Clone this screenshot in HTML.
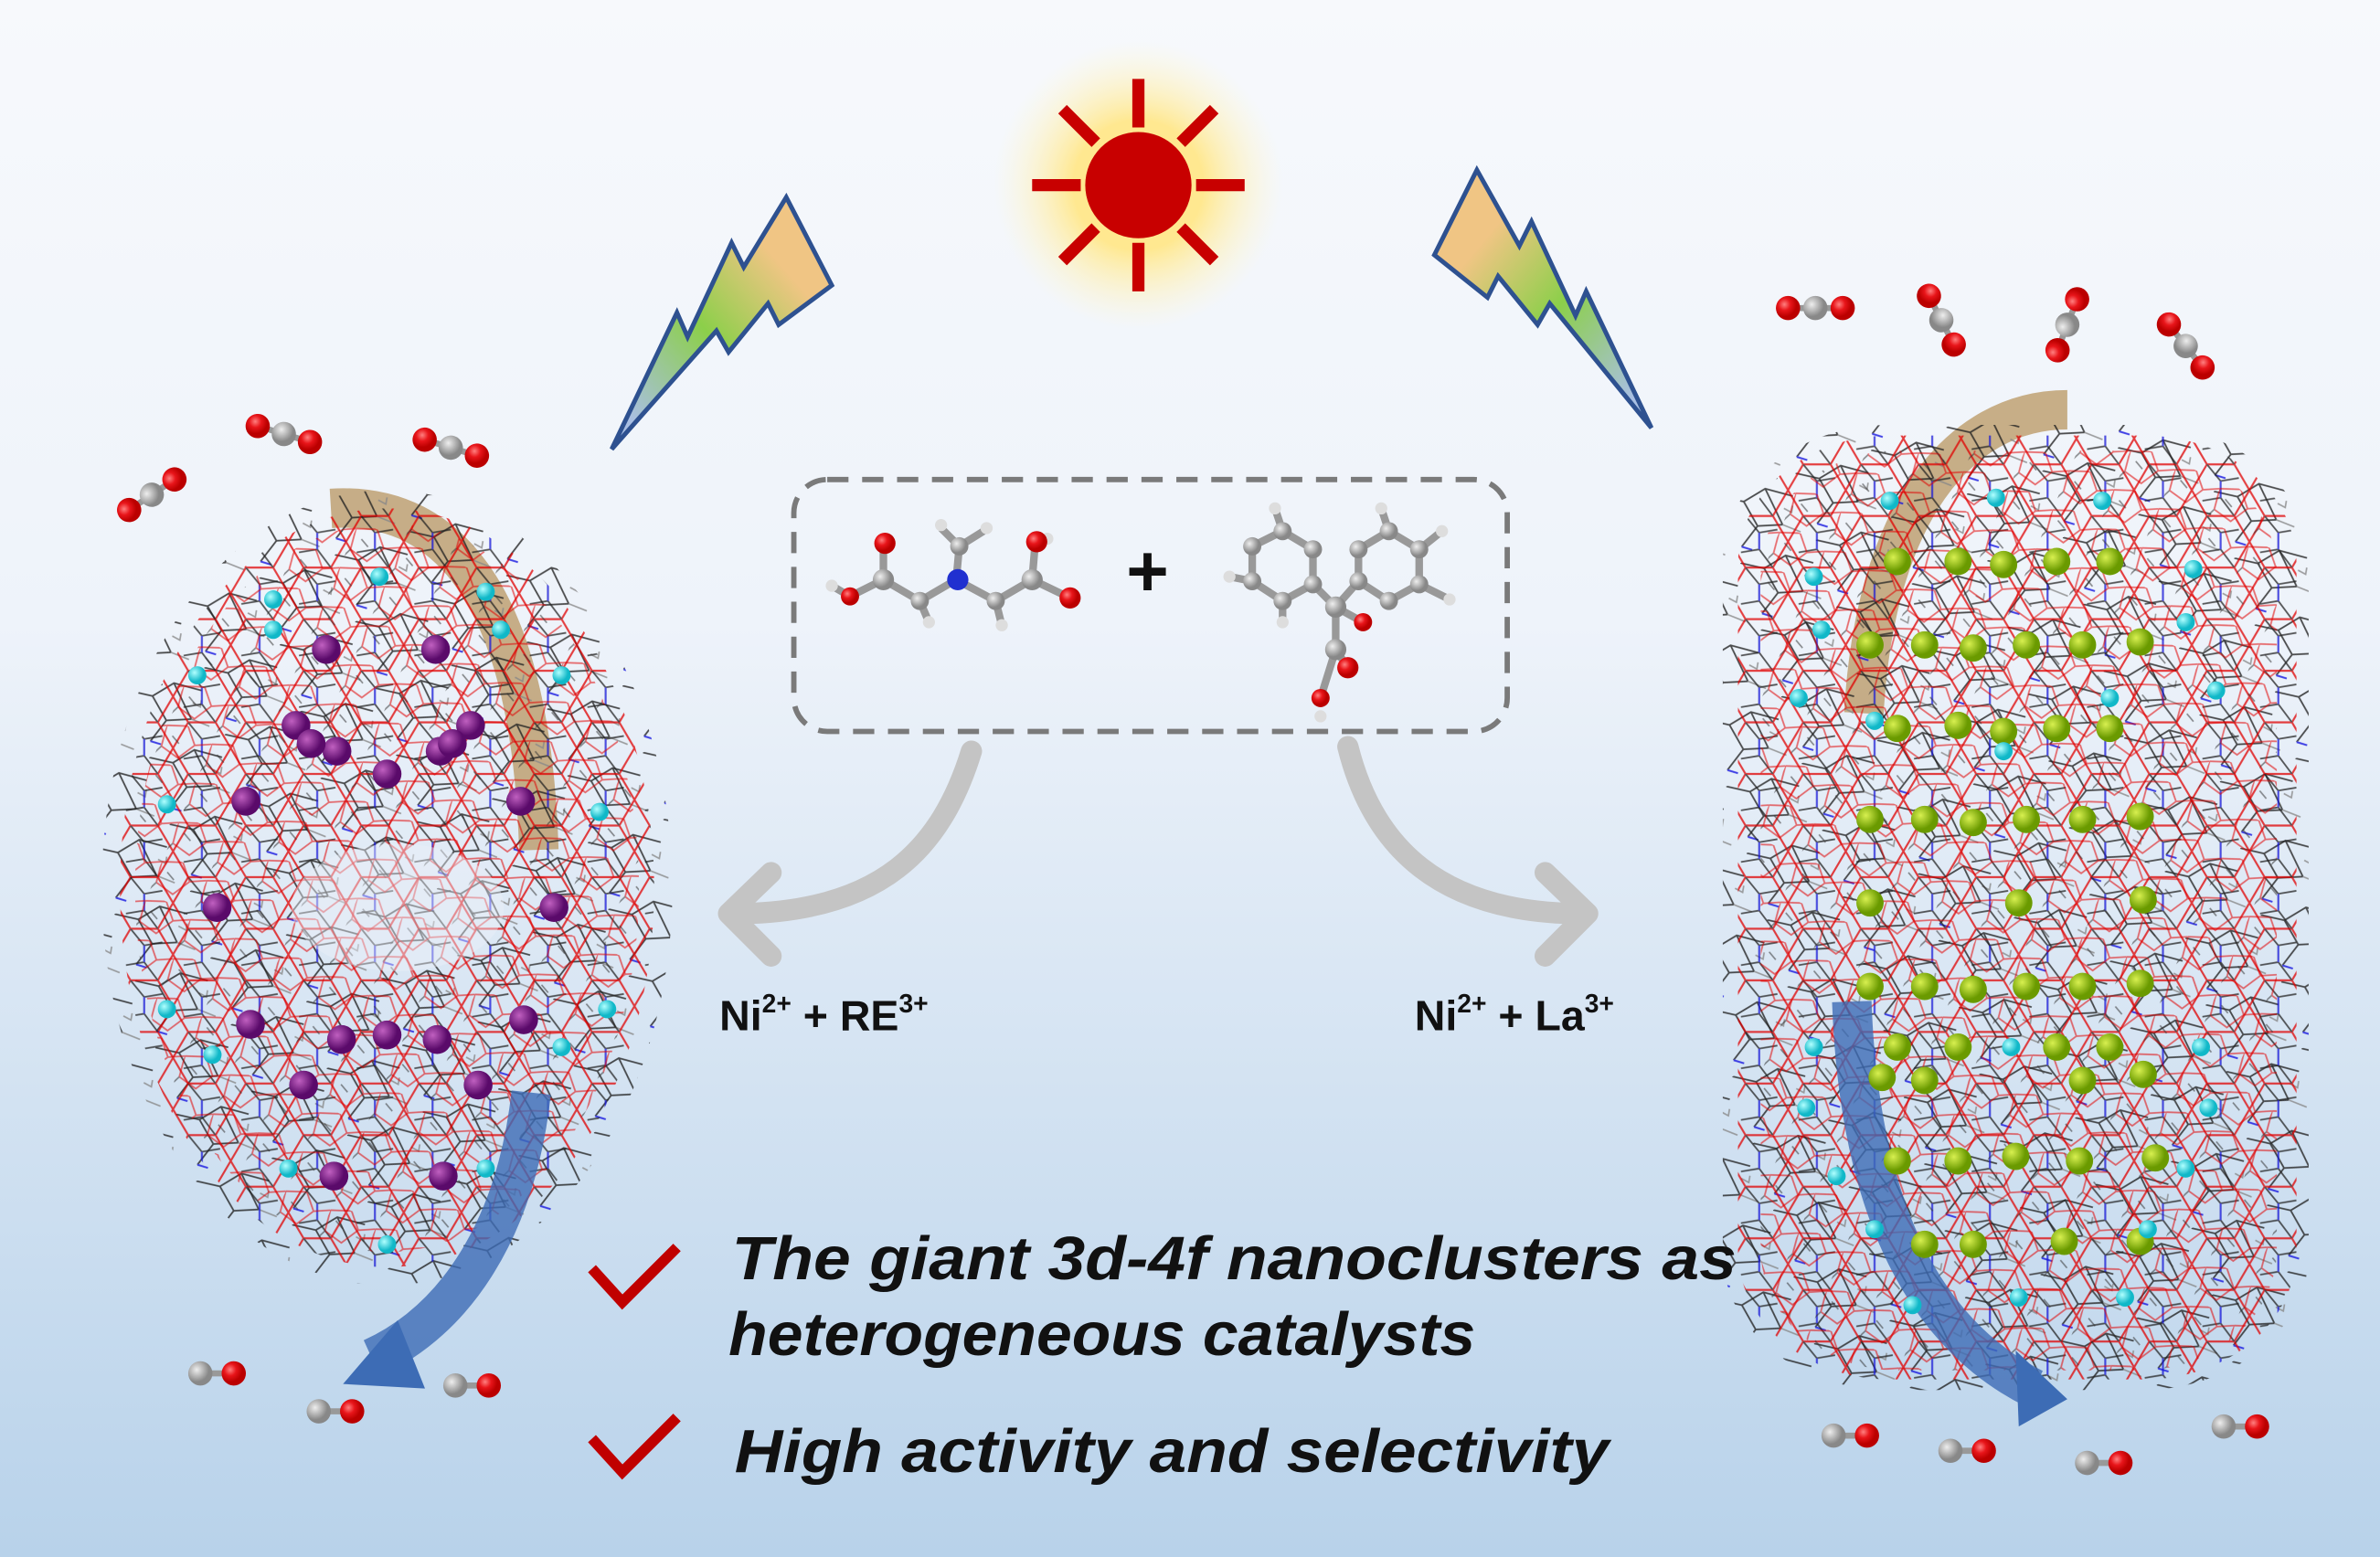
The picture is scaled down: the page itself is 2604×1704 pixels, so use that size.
<!DOCTYPE html>
<html><head><meta charset="utf-8">
<style>html,body{margin:0;padding:0;width:2604px;height:1704px;overflow:hidden}svg{display:block}</style>
</head><body>
<svg xmlns="http://www.w3.org/2000/svg" xmlns:xlink="http://www.w3.org/1999/xlink" width="2604" height="1704" viewBox="0 0 1568 1026" preserveAspectRatio="none">
<defs>
<linearGradient id="bg" x1="0" y1="0" x2="0" y2="1">
<stop offset="0" stop-color="#f7f9fc"/><stop offset="0.4" stop-color="#eef3fa"/><stop offset="1" stop-color="#b8d2ea"/></linearGradient>
<linearGradient id="bolt" x1="0" y1="1" x2="1" y2="0">
<stop offset="0.1" stop-color="#a9bfe3"/><stop offset="0.45" stop-color="#8ccf4a"/><stop offset="0.75" stop-color="#f0c584"/></linearGradient>
<linearGradient id="bolt2" x1="1" y1="1" x2="0" y2="0">
<stop offset="0.1" stop-color="#a9bfe3"/><stop offset="0.45" stop-color="#8ccf4a"/><stop offset="0.75" stop-color="#f0c584"/></linearGradient>
<radialGradient id="glow"><stop offset="0.45" stop-color="#ffe890"/><stop offset="1" stop-color="#fff7d0" stop-opacity="0"/></radialGradient>
<radialGradient id="red" cx="0.35" cy="0.35"><stop offset="0" stop-color="#ff8080"/><stop offset="0.5" stop-color="#e8151a"/><stop offset="1" stop-color="#b00"/></radialGradient>
<radialGradient id="grey" cx="0.35" cy="0.35"><stop offset="0" stop-color="#eee"/><stop offset="1" stop-color="#888"/></radialGradient>
<radialGradient id="pur" cx="0.35" cy="0.35"><stop offset="0" stop-color="#c060c0"/><stop offset="1" stop-color="#5a0a6a"/></radialGradient>
<radialGradient id="grn" cx="0.35" cy="0.35"><stop offset="0" stop-color="#d8f050"/><stop offset="1" stop-color="#6a9a00"/></radialGradient>
<radialGradient id="cy" cx="0.35" cy="0.35"><stop offset="0" stop-color="#b0ffff"/><stop offset="1" stop-color="#10b8c8"/></radialGradient>
<pattern id="p1" width="38" height="34" patternUnits="userSpaceOnUse">
<path d="M0,17 L10,0 L28,0 L38,17 L28,34 L10,34 Z" fill="none" stroke="#e00000" stroke-width="1.3"/>
<path d="M10,0 L19,11 L19,22 L28,34 M19,11 L31,9 M19,22 L7,24" fill="none" stroke="#222" stroke-width="1.1"/>
<path d="M19,11 L19,22" stroke="#1515e0" stroke-width="1.2"/>
</pattern>
<pattern id="p2" width="32" height="28" patternUnits="userSpaceOnUse" patternTransform="rotate(23)">
<path d="M0,5 L13,0 L22,10 L15,22 L2,19 Z M22,10 L32,5" fill="none" stroke="#e00000" stroke-width="1.1"/>
<path d="M2,19 L-2,28 M6,10 L12,13" fill="none" stroke="#333" stroke-width="1"/>
</pattern>
<pattern id="p3" width="52" height="46" patternUnits="userSpaceOnUse" patternTransform="rotate(-17)">
<path d="M0,0 L14,8 L30,4 L46,14 M14,8 L18,26 L34,30 L30,4 M18,26 L4,36" fill="none" stroke="#222" stroke-width="1.1"/>
<path d="M34,30 L44,38 M38,20 L42,24 L44,20" fill="none" stroke="#888" stroke-width="1"/>
<path d="M4,36 L10,40" stroke="#1515e0" stroke-width="1.2"/>
</pattern>
<g id="co2"><line x1="-18" y1="0" x2="18" y2="0" stroke="#999" stroke-width="4"/><circle cx="-18" r="8" fill="url(#red)"/><circle cx="18" r="8" fill="url(#red)"/><circle r="8" fill="url(#grey)"/></g>
<g id="co"><line x1="0" y1="0" x2="22" y2="0" stroke="#999" stroke-width="4"/><circle r="8" fill="url(#grey)"/><circle cx="22" r="8" fill="url(#red)"/></g>
<g id="P"><circle r="9.5" fill="url(#pur)"/></g>
<g id="C"><circle r="6" fill="url(#cy)"/></g>
<g id="G"><circle r="9" fill="url(#grn)"/></g>
</defs>
<rect width="1568" height="1026" fill="url(#bg)"/>

<!-- LEFT CLUSTER -->
<path d="M218,335 C300,330 350,400 355,560" fill="none" stroke="#b89560" stroke-width="26" opacity="0.75"/>
<g>
<ellipse cx="255" cy="585" rx="188" ry="262" fill="url(#p3)" opacity="0.8"/>
<ellipse cx="255" cy="585" rx="176" ry="250" fill="url(#p1)" opacity="0.75"/>
<ellipse cx="255" cy="585" rx="166" ry="240" fill="url(#p2)" opacity="0.55"/>
<ellipse cx="262" cy="598" rx="70" ry="42" fill="#eaf0f8" opacity="0.45"/>
</g>
<path d="M350,720 C340,810 300,870 245,895" fill="none" stroke="#3d6cb5" stroke-width="26" opacity="0.8"/>
<polygon points="262,870 226,912 280,915" fill="#3d6cb5"/>
<use href="#P" x="215" y="428"/><use href="#P" x="287" y="428"/><use href="#P" x="195" y="478"/><use href="#P" x="222" y="495"/><use href="#P" x="255" y="510"/><use href="#P" x="290" y="495"/><use href="#P" x="310" y="478"/><use href="#P" x="162" y="528"/><use href="#P" x="343" y="528"/><use href="#P" x="143" y="598"/><use href="#P" x="365" y="598"/><use href="#P" x="165" y="675"/><use href="#P" x="345" y="672"/><use href="#P" x="225" y="685"/><use href="#P" x="255" y="682"/><use href="#P" x="288" y="685"/><use href="#P" x="200" y="715"/><use href="#P" x="315" y="715"/><use href="#P" x="220" y="775"/><use href="#P" x="292" y="775"/><use href="#P" x="205" y="490"/><use href="#P" x="298" y="490"/>
<use href="#C" x="180" y="395"/><use href="#C" x="250" y="380"/><use href="#C" x="320" y="390"/><use href="#C" x="130" y="445"/><use href="#C" x="370" y="445"/><use href="#C" x="110" y="530"/><use href="#C" x="395" y="535"/><use href="#C" x="110" y="665"/><use href="#C" x="400" y="665"/><use href="#C" x="140" y="695"/><use href="#C" x="370" y="690"/><use href="#C" x="190" y="770"/><use href="#C" x="320" y="770"/><use href="#C" x="255" y="820"/><use href="#C" x="180" y="415"/><use href="#C" x="330" y="415"/>

<!-- RIGHT CLUSTER -->
<path d="M1362,270 C1290,270 1235,340 1228,470" fill="none" stroke="#b89560" stroke-width="26" opacity="0.75"/>
<g>
<rect x="1135" y="280" width="386" height="636" rx="110" ry="90" fill="url(#p3)" opacity="0.8"/>
<rect x="1145" y="287" width="368" height="622" rx="100" ry="85" fill="url(#p1)" opacity="0.75"/>
<rect x="1160" y="297" width="340" height="606" rx="90" ry="80" fill="url(#p2)" opacity="0.55"/>
</g>
<path d="M1220,660 C1225,800 1270,880 1340,915" fill="none" stroke="#3d6cb5" stroke-width="26" opacity="0.8"/>
<polygon points="1328,890 1362,922 1330,940" fill="#3d6cb5"/>
<g>
<use href="#G" x="1250" y="370"/><use href="#G" x="1290" y="370"/><use href="#G" x="1320" y="372"/><use href="#G" x="1355" y="370"/><use href="#G" x="1390" y="370"/>
<use href="#G" x="1232" y="425"/><use href="#G" x="1268" y="425"/><use href="#G" x="1300" y="427"/><use href="#G" x="1335" y="425"/><use href="#G" x="1372" y="425"/><use href="#G" x="1410" y="423"/>
<use href="#G" x="1250" y="480"/><use href="#G" x="1290" y="478"/><use href="#G" x="1320" y="482"/><use href="#G" x="1355" y="480"/><use href="#G" x="1390" y="480"/>
<use href="#G" x="1232" y="540"/><use href="#G" x="1268" y="540"/><use href="#G" x="1300" y="542"/><use href="#G" x="1335" y="540"/><use href="#G" x="1372" y="540"/><use href="#G" x="1410" y="538"/>
<use href="#G" x="1232" y="595"/><use href="#G" x="1330" y="595"/><use href="#G" x="1412" y="593"/>
<use href="#G" x="1232" y="650"/><use href="#G" x="1268" y="650"/><use href="#G" x="1300" y="652"/><use href="#G" x="1335" y="650"/><use href="#G" x="1372" y="650"/><use href="#G" x="1410" y="648"/>
<use href="#G" x="1250" y="690"/><use href="#G" x="1290" y="690"/><use href="#G" x="1355" y="690"/><use href="#G" x="1390" y="690"/>
<use href="#G" x="1240" y="710"/><use href="#G" x="1268" y="712"/><use href="#G" x="1372" y="712"/><use href="#G" x="1412" y="708"/>
<use href="#G" x="1250" y="765"/><use href="#G" x="1290" y="765"/><use href="#G" x="1328" y="762"/><use href="#G" x="1370" y="765"/><use href="#G" x="1420" y="763"/>
<use href="#G" x="1268" y="820"/><use href="#G" x="1300" y="820"/><use href="#G" x="1360" y="818"/><use href="#G" x="1410" y="818"/>
</g>
<use href="#C" x="1245" y="330"/><use href="#C" x="1315" y="328"/><use href="#C" x="1385" y="330"/><use href="#C" x="1195" y="380"/><use href="#C" x="1445" y="375"/><use href="#C" x="1200" y="415"/><use href="#C" x="1440" y="410"/><use href="#C" x="1185" y="460"/><use href="#C" x="1460" y="455"/><use href="#C" x="1235" y="475"/><use href="#C" x="1390" y="460"/><use href="#C" x="1320" y="495"/><use href="#C" x="1195" y="690"/><use href="#C" x="1450" y="690"/><use href="#C" x="1190" y="730"/><use href="#C" x="1455" y="730"/><use href="#C" x="1210" y="775"/><use href="#C" x="1440" y="770"/><use href="#C" x="1260" y="860"/><use href="#C" x="1330" y="855"/><use href="#C" x="1400" y="855"/><use href="#C" x="1325" y="690"/><use href="#C" x="1235" y="810"/><use href="#C" x="1415" y="810"/>

<!-- gas molecules -->
<use href="#co2" transform="translate(100,326) rotate(-34)"/>
<use href="#co2" transform="translate(187,286) rotate(17)"/>
<use href="#co2" transform="translate(297,295) rotate(17)"/>
<use href="#co2" transform="translate(1196,203)"/>
<use href="#co2" transform="translate(1279,211) rotate(63)"/>
<use href="#co2" transform="translate(1362,214) rotate(-69)"/>
<use href="#co2" transform="translate(1440,228) rotate(52)"/>
<use href="#co" x="132" y="905"/><use href="#co" x="210" y="930"/><use href="#co" x="300" y="913"/>
<use href="#co" x="1208" y="946"/><use href="#co" x="1285" y="956"/><use href="#co" x="1375" y="964"/><use href="#co" x="1465" y="940"/>

<!-- sun -->
<circle cx="750" cy="122" r="95" fill="url(#glow)"/>
<g stroke="#c80000" stroke-width="8">
<line x1="680" y1="122" x2="712" y2="122"/><line x1="788" y1="122" x2="820" y2="122"/>
<line x1="750" y1="52" x2="750" y2="84"/><line x1="750" y1="160" x2="750" y2="192"/>
<line x1="700" y1="72" x2="722" y2="94"/><line x1="778" y1="150" x2="800" y2="172"/>
<line x1="800" y1="72" x2="778" y2="94"/><line x1="722" y1="150" x2="700" y2="172"/>
</g>
<circle cx="750" cy="122" r="35" fill="#c80000"/>
<!-- bolts -->
<polygon points="403,296 446,206 453,222 482,160 490,176 518,130 548,188 513,214 506,200 480,232 472,218" fill="url(#bolt)" stroke="#2e5190" stroke-width="3"/>
<polygon points="1088,282 1045,192 1038,208 1009,146 1001,162 973,112 945,168 980,196 987,182 1013,214 1021,200" fill="url(#bolt2)" stroke="#2e5190" stroke-width="3"/>
<!-- dashed box -->
<rect x="523" y="316" width="470" height="166" rx="22" fill="none" stroke="#7a7a7a" stroke-width="3.5" stroke-dasharray="14 9"/>
<!-- molecule 1 -->
<g stroke="#999" stroke-width="5">
<line x1="560" y1="393" x2="582" y2="382"/><line x1="582" y1="382" x2="582" y2="360"/><line x1="582" y1="382" x2="606" y2="396"/><line x1="606" y1="396" x2="630" y2="382"/><line x1="630" y1="382" x2="632" y2="360"/><line x1="632" y1="360" x2="648" y2="350"/><line x1="630" y1="382" x2="656" y2="396"/><line x1="656" y1="396" x2="680" y2="382"/><line x1="680" y1="382" x2="682" y2="358"/><line x1="680" y1="382" x2="705" y2="394"/><line x1="632" y1="360" x2="620" y2="348"/><line x1="560" y1="393" x2="548" y2="386"/><line x1="606" y1="396" x2="612" y2="410"/><line x1="656" y1="396" x2="660" y2="412"/><line x1="682" y1="358" x2="690" y2="355"/>
</g>
<g fill="#ddd"><circle cx="548" cy="386" r="4"/><circle cx="650" cy="348" r="4"/><circle cx="612" cy="410" r="4"/><circle cx="660" cy="412" r="4"/><circle cx="690" cy="355" r="4"/><circle cx="620" cy="346" r="4"/></g>
<circle cx="560" cy="393" r="6" fill="url(#red)"/><circle cx="583" cy="358" r="7" fill="url(#red)"/><circle cx="582" cy="382" r="7" fill="url(#grey)"/><circle cx="606" cy="396" r="6" fill="url(#grey)"/><circle cx="631" cy="382" r="7" fill="#2030d0"/><circle cx="632" cy="360" r="6" fill="url(#grey)"/><circle cx="656" cy="396" r="6" fill="url(#grey)"/><circle cx="680" cy="382" r="7" fill="url(#grey)"/><circle cx="683" cy="357" r="7" fill="url(#red)"/><circle cx="705" cy="394" r="7" fill="url(#red)"/>
<text x="756" y="393" font-family="Liberation Sans, sans-serif" font-weight="bold" font-size="48" text-anchor="middle" fill="#111">+</text>
<!-- molecule 2 -->
<g stroke="#999" stroke-width="5" fill="none">
<polygon points="825,360 845,350 865,362 865,385 845,396 825,383"/>
<polygon points="895,362 915,350 935,362 935,385 915,396 895,383"/>
<line x1="865" y1="385" x2="880" y2="400"/><line x1="895" y1="383" x2="880" y2="400"/><line x1="880" y1="400" x2="880" y2="428"/><line x1="880" y1="428" x2="888" y2="440"/><line x1="880" y1="400" x2="898" y2="410"/><line x1="880" y1="428" x2="870" y2="460"/>
<line x1="825" y1="383" x2="810" y2="380"/><line x1="845" y1="350" x2="840" y2="335"/><line x1="915" y1="350" x2="910" y2="335"/><line x1="935" y1="362" x2="950" y2="350"/><line x1="935" y1="385" x2="955" y2="395"/><line x1="845" y1="396" x2="845" y2="410"/>
</g>
<g fill="#ddd"><circle cx="810" cy="380" r="4"/><circle cx="840" cy="335" r="4"/><circle cx="910" cy="335" r="4"/><circle cx="950" cy="350" r="4"/><circle cx="955" cy="395" r="4"/><circle cx="845" cy="410" r="4"/><circle cx="870" cy="472" r="4"/></g>
<g fill="url(#grey)"><circle cx="825" cy="360" r="6"/><circle cx="845" cy="350" r="6"/><circle cx="865" cy="362" r="6"/><circle cx="865" cy="385" r="6"/><circle cx="845" cy="396" r="6"/><circle cx="825" cy="383" r="6"/><circle cx="895" cy="362" r="6"/><circle cx="915" cy="350" r="6"/><circle cx="935" cy="362" r="6"/><circle cx="935" cy="385" r="6"/><circle cx="915" cy="396" r="6"/><circle cx="895" cy="383" r="6"/><circle cx="880" cy="400" r="7"/><circle cx="880" cy="428" r="7"/></g>
<circle cx="888" cy="440" r="7" fill="url(#red)"/><circle cx="898" cy="410" r="6" fill="url(#red)"/><circle cx="870" cy="460" r="6" fill="url(#red)"/>
<!-- grey arrows -->
<path d="M640,495 C620,560 580,600 490,602" fill="none" stroke="#c4c4c4" stroke-width="14" stroke-linecap="round"/>
<polyline points="508,575 480,602 508,630" fill="none" stroke="#c4c4c4" stroke-width="14" stroke-linecap="round" stroke-linejoin="round"/>
<path d="M888,492 C905,560 950,600 1036,602" fill="none" stroke="#c4c4c4" stroke-width="14" stroke-linecap="round"/>
<polyline points="1018,575 1046,602 1018,630" fill="none" stroke="#c4c4c4" stroke-width="14" stroke-linecap="round" stroke-linejoin="round"/>
<g font-family="Liberation Sans, sans-serif" font-weight="bold" font-size="28" fill="#111">
<text x="474" y="679">Ni<tspan font-size="17" dy="-12">2+</tspan><tspan dy="12"> + RE</tspan><tspan font-size="17" dy="-12">3+</tspan></text>
<text x="932" y="679">Ni<tspan font-size="17" dy="-12">2+</tspan><tspan dy="12"> + La</tspan><tspan font-size="17" dy="-12">3+</tspan></text>
</g>
<polyline points="390,836 410,858 446,822" fill="none" stroke="#c00000" stroke-width="7"/>
<polyline points="390,948 410,970 446,934" fill="none" stroke="#c00000" stroke-width="7"/>
<g font-family="Liberation Sans, sans-serif" font-weight="bold" font-style="italic" font-size="40" fill="#111">
<text x="482" y="843" textLength="662" lengthAdjust="spacingAndGlyphs">The giant 3d-4f nanoclusters as</text>
<text x="480" y="893" textLength="492" lengthAdjust="spacingAndGlyphs">heterogeneous catalysts</text>
<text x="484" y="970" textLength="576" lengthAdjust="spacingAndGlyphs">High activity and selectivity</text>
</g>
</svg>
</body></html>
